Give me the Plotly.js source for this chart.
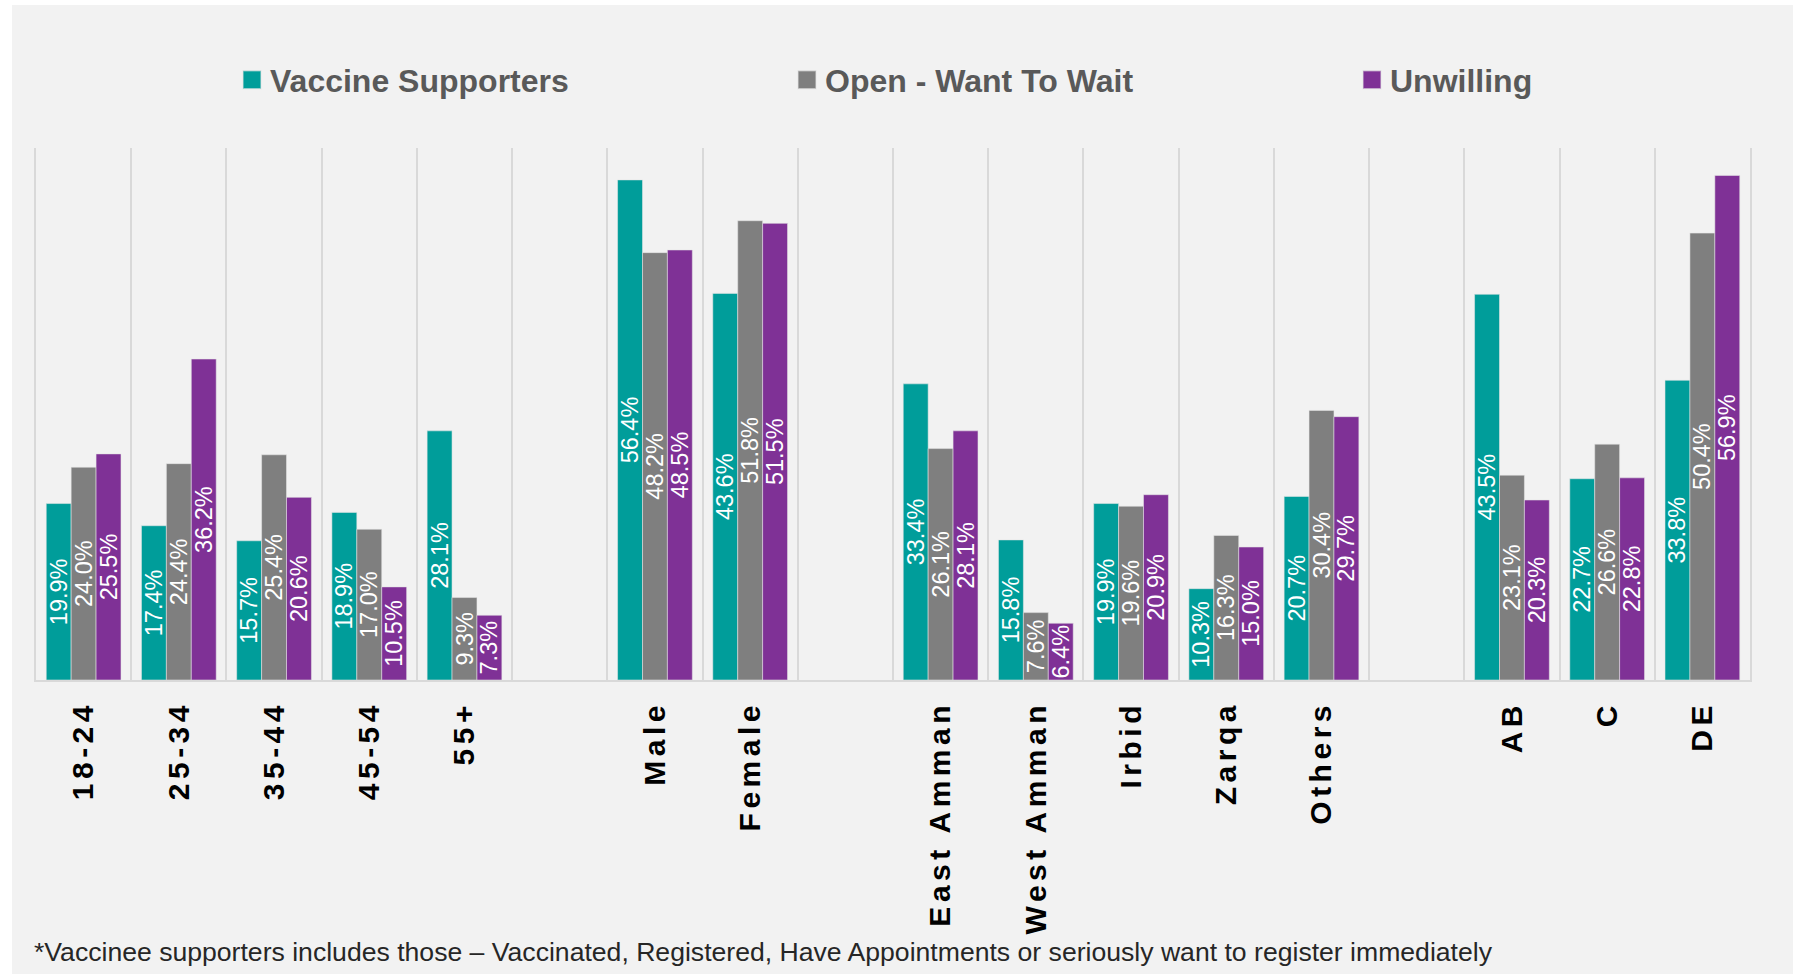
<!DOCTYPE html>
<html>
<head>
<meta charset="utf-8">
<script src="https://cdn.plot.ly/plotly-3.0.1.min.js"></script>
<style>
  html, body { margin: 0; padding: 0; background: #ffffff; }
  #chart { position: absolute; left: 12px; top: 5px; width: 1781px; height: 969px; }
  #chart .xtick text { letter-spacing: 4.5px; }
  #chart .legend .legendpoints path { transform-box: fill-box; transform-origin: center; transform: translate(22px, 0px) scale(1.5); }
</style>
</head>
<body>
<div id="chart"></div>
<script>
// Categories (blank entries are the spacer slots between groups)
const categories = ['18-24', '25-34', '35-44', '45-54', '55+', ' ',
  'Male', 'Female', '  ',
  'East Amman', 'West Amman', 'Irbid', 'Zarqa', 'Others', '   ',
  'AB', 'C', 'DE'];

const seriesNames = ['Vaccine Supporters', 'Open - Want To Wait', 'Unwilling'];

const vaccineSupporters = [19.9, 17.4, 15.7, 18.9, 28.1, null, 56.4, 43.6, null, 33.4, 15.8, 19.9, 10.3, 20.7, null, 43.5, 22.7, 33.8];
const openWantToWait   = [24.0, 24.4, 25.4, 17.0, 9.3, null, 48.2, 51.8, null, 26.1, 7.6, 19.6, 16.3, 30.4, null, 23.1, 26.6, 50.4];
const unwilling        = [25.5, 36.2, 20.6, 10.5, 7.3, null, 48.5, 51.5, null, 28.1, 6.4, 20.9, 15.0, 29.7, null, 20.3, 22.8, 56.9];

const footnote = '*Vaccinee supporters includes those \u2013 Vaccinated, Registered, Have Appointments or seriously want to register immediately';

const colors = ['#009d9a', '#7f7f7f', '#7f3196'];
const legendWidths = [510, 520, 516];
const FONT = 'Arial, "Liberation Sans", Helvetica, sans-serif';

const seriesValues = [vaccineSupporters, openWantToWait, unwilling];
const traces = seriesValues.map((vals, i) => ({
  type: 'bar',
  name: seriesNames[i],
  x: categories,
  y: vals,
  marker: { color: colors[i], line: { color: 'rgba(230,230,230,0.55)', width: 1 } },
  texttemplate: '%{y:.1f}%',
  textposition: 'inside',
  insidetextanchor: 'middle',
  constraintext: 'none',
  textangle: -90,
  textfont: { family: FONT, size: 23.5, color: '#ffffff' },
  legendwidth: legendWidths[i],
  hoverinfo: 'x+y+name',
  cliponaxis: false
}));

const W = 1781, H = 969;
const M = { l: 24, r: 43, t: 143, b: 294 };
const plotW = W - M.l - M.r, plotH = H - M.t - M.b;

const layout = {
  width: W,
  height: H,
  paper_bgcolor: '#f2f2f2',
  plot_bgcolor: '#f2f2f2',
  font: { family: FONT },
  barmode: 'group',
  bargap: 0.215,
  bargroupgap: 0,
  margin: { l: M.l, r: M.r, t: M.t, b: M.b, pad: 0 },
  showlegend: true,
  legend: {
    orientation: 'h',
    xref: 'container', yref: 'container',
    x: 218 / W, xanchor: 'left',
    y: 1 - 75 / H, yanchor: 'middle',
    entrywidth: 516, entrywidthmode: 'pixels',
    font: { family: FONT, size: 32, color: '#595959', weight: 'bold' },
    bgcolor: 'rgba(0,0,0,0)',
    itemclick: false, itemdoubleclick: false
  },
  xaxis: {
    type: 'category',
    categoryorder: 'array',
    categoryarray: categories,
    tickson: 'boundaries',
    showgrid: true,
    gridcolor: '#d9d9d9',
    gridwidth: 1.5,
    showline: true,
    linecolor: '#d9d9d9',
    linewidth: 2,
    ticks: '',
    tickangle: -90,
    ticklabelstandoff: 7,
    tickfont: { family: FONT, size: 30, color: '#000000', weight: 'bold' },
    fixedrange: true
  },
  yaxis: {
    range: [0, 60],
    showgrid: false,
    zeroline: false,
    showticklabels: false,
    ticks: '',
    showline: true,
    mirror: true,
    linecolor: '#d9d9d9',
    linewidth: 1.5,
    fixedrange: true
  },
  annotations: [{
    xref: 'paper', yref: 'paper',
    x: (20 - M.l) / plotW, xanchor: 'left',
    y: (M.t + plotH - 947) / plotH, yanchor: 'middle',
    text: footnote,
    showarrow: false,
    font: { family: FONT, size: 26.6, color: '#262626' }
  }]
};

Plotly.newPlot('chart', traces, layout, { displayModeBar: false, responsive: false });
</script>
</body>
</html>
